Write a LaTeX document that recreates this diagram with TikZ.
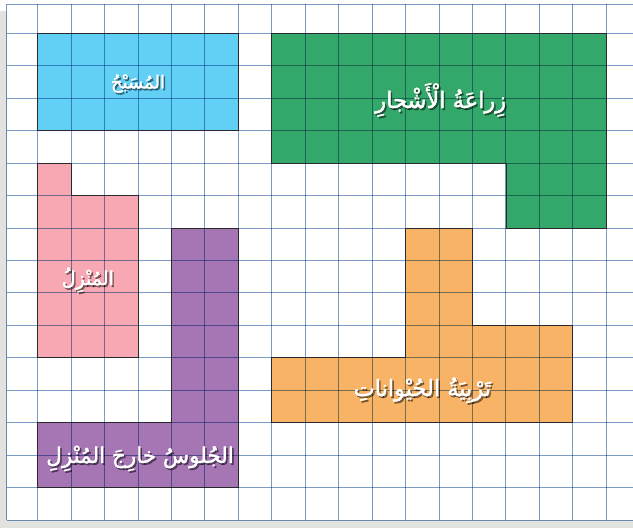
\documentclass[tikz,border=0pt]{standalone}
\usepackage{fontspec}
\newfontfamily\arabicfont[Script=Arabic,FakeBold=1.8]{DejaVu Sans}
\TeXXeTstate=1
\definecolor{gridc}{RGB}{124,155,196}
\definecolor{bluef}{RGB}{98,208,245}
\definecolor{greenf}{RGB}{51,168,106}
\definecolor{pinkf}{RGB}{247,168,178}
\definecolor{purplef}{RGB}{165,117,180}
\definecolor{orangef}{RGB}{248,179,102}
\definecolor{edgec}{RGB}{40,40,45}
\definecolor{greyb}{RGB}{226,226,222}
\tikzset{
  region/.style={draw=edgec, line width=0.9pt},
  gridline/.style={draw=gridc, line width=1pt},
  lbl/.style={text=white, font=\arabicfont, inner sep=0pt},
  lblshadow/.style={text=black, opacity=0.45, font=\arabicfont, inner sep=0pt},
}
\newcommand{\ArLabel}[4]{%
  \node[lblshadow, xshift=1.6pt, yshift=-1.8pt] (#1s) at #2 {\fontsize{#3}{#3}\selectfont #4};
  \node[lbl] (#1) at #2 {\fontsize{#3}{#3}\selectfont #4};
}
\begin{document}
\begin{tikzpicture}[x=33.45pt, y=-32.45pt]
\useasboundingbox (0pt,0pt) rectangle (633pt,-528pt);
\fill[white] (0pt,0pt) rectangle (633pt,-528pt);
\fill[greyb] (0pt,-11pt) rectangle (6.7pt,-528pt);
\fill[greyb] (0pt,-520pt) rectangle (633pt,-528pt);
\begin{scope}[xshift=4.2pt, yshift=-0.85pt]
  % regions
  \fill[bluef] (1,1) rectangle (7,4);
  \fill[greenf] (8,1) -- (18,1) -- (18,7) -- (15,7) -- (15,5) -- (8,5) -- cycle;
  \fill[pinkf] (1,5) -- (2,5) -- (2,6) -- (4,6) -- (4,11) -- (1,11) -- cycle;
  \fill[purplef] (5,7) -- (7,7) -- (7,15) -- (1,15) -- (1,13) -- (5,13) -- cycle;
  \fill[orangef] (12,7) -- (14,7) -- (14,10) -- (17,10) -- (17,13) -- (8,13) -- (8,11) -- (12,11) -- cycle;
  % grid
  \begin{scope}[blend mode=multiply]
    \foreach \k in {1,...,18} \draw[gridline] (\k,0.106) -- (\k,16);
    \draw[gridline] (0.075,0.106) -- (0.075,16);
    \foreach \r in {1,...,16} \draw[gridline] (0.075,\r) -- (18.8,\r);
    \draw[gridline] (0.075,0.106) -- (18.8,0.106);
  \end{scope}
  % outlines
  \draw[region] (1,1) rectangle (7,4);
  \draw[region] (8,1) -- (18,1) -- (18,7) -- (15,7) -- (15,5) -- (8,5) -- cycle;
  \draw[region] (1,5) -- (2,5) -- (2,6) -- (4,6) -- (4,11) -- (1,11) -- cycle;
  \draw[region] (5,7) -- (7,7) -- (7,15) -- (1,15) -- (1,13) -- (5,13) -- cycle;
  \draw[region] (12,7) -- (14,7) -- (14,10) -- (17,10) -- (17,13) -- (8,13) -- (8,11) -- (12,11) -- cycle;
  % labels
  \ArLabel{pool}{(4.0,2.55)}{18}{\beginR المُسَبْحُ\endR}
  \ArLabel{trees}{(13.05,3.05)}{22.5}{\beginR زِراعَةُ الْأَشْجارِ\endR}
  \ArLabel{home}{(2.5,8.6)}{19}{\beginR المُنْزِلُ\endR}
  \ArLabel{outside}{(4.06,14.1)}{21.5}{\beginR الجُلوسُ خارِجَ المُنْزِلِ\endR}
  \ArLabel{animals}{(12.5,12.0)}{22.5}{\beginR تَرْبِيَةُ الحُيْواناتِ\endR}
\end{scope}
\end{tikzpicture}
\end{document}
